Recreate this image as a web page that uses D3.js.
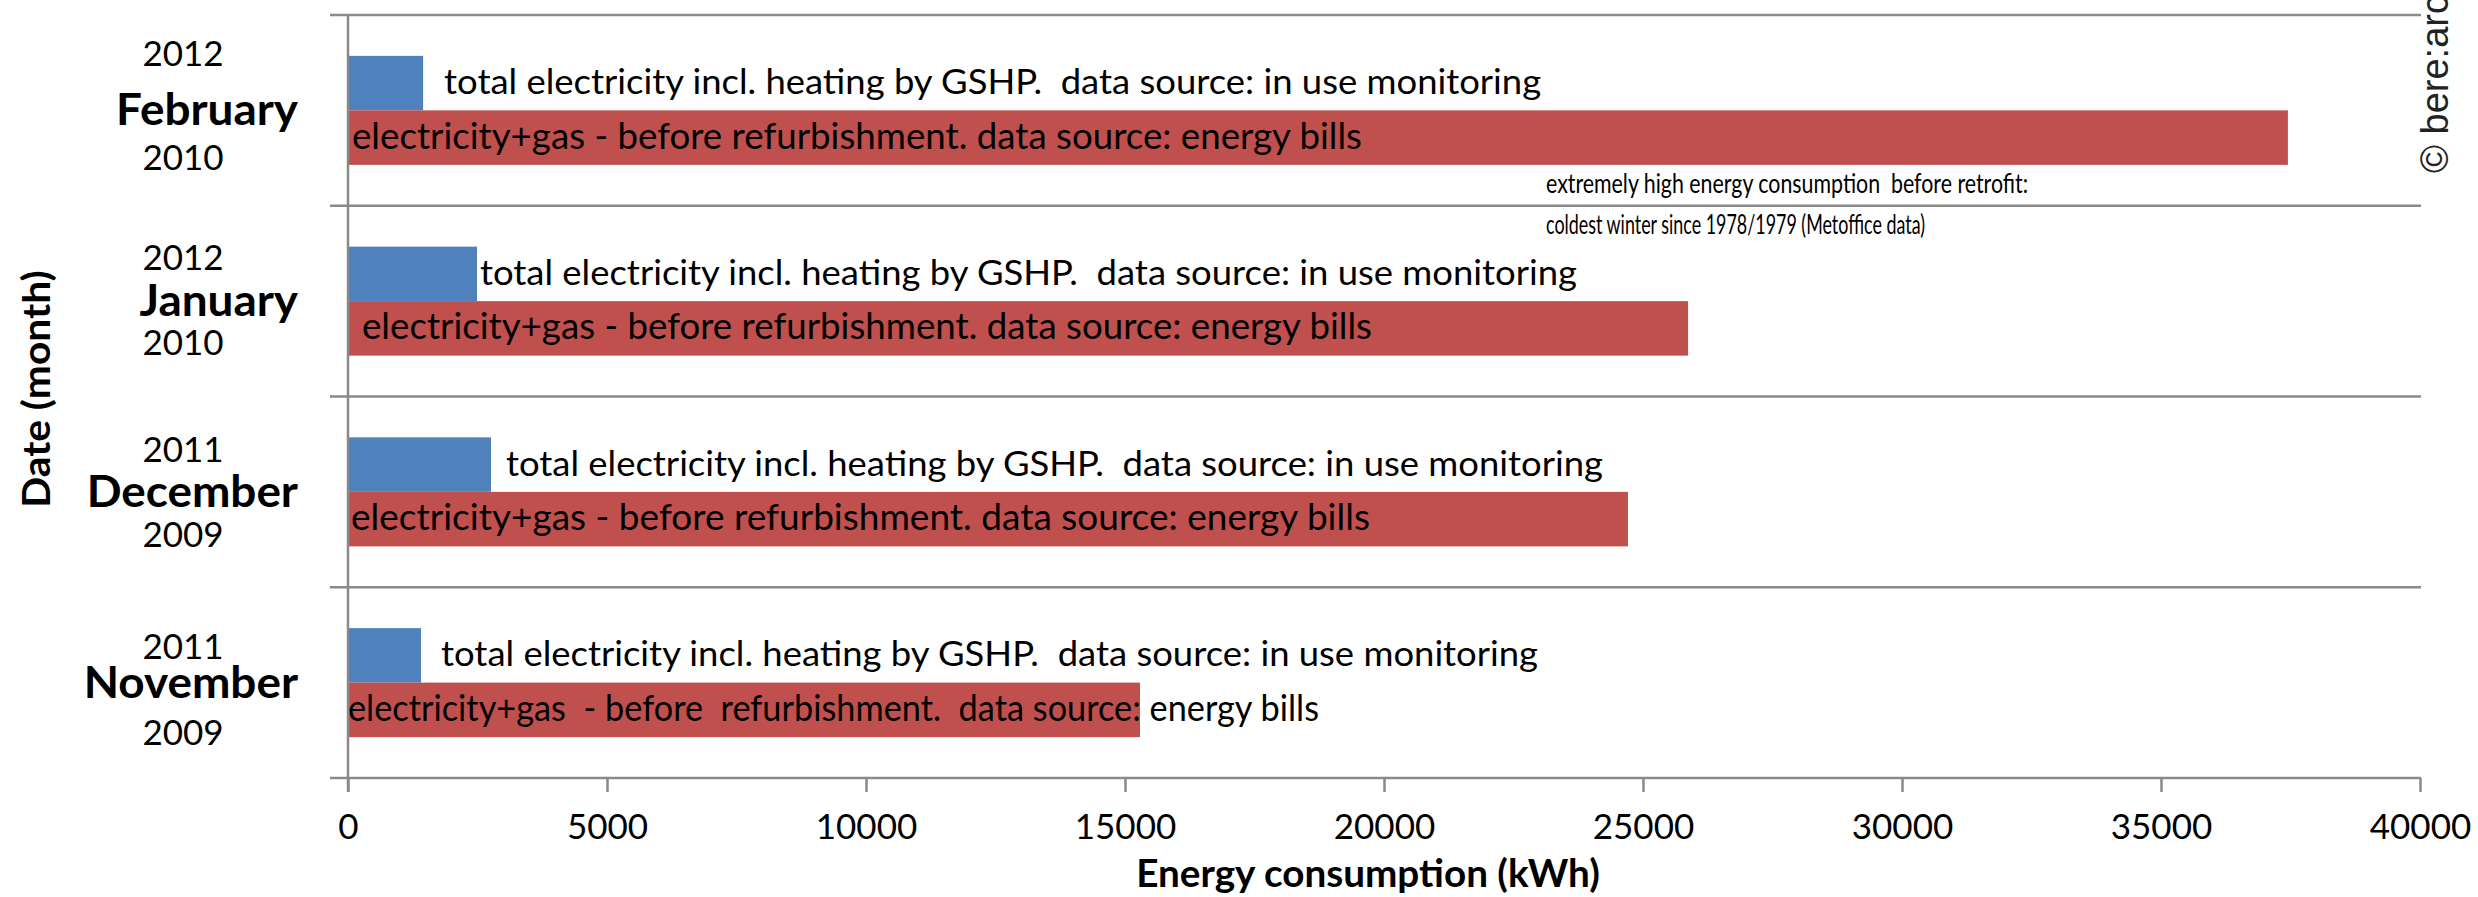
<!DOCTYPE html>
<html>
<head>
<meta charset="utf-8">
<script src="https://cdn.jsdelivr.net/npm/d3@7"></script>
<style>
  body { margin: 0; background: #fff; }
  svg { display: block; }
  text { white-space: pre; }
</style>
</head>
<body>
<div id="chart"></div>
<script>
var width = 2478,
	height = 897;

// categories, top to bottom
var months = ["February", "January", "December", "November"];
var yearsAfter = ["2012", "2012", "2011", "2011"];
var yearsBefore = ["2010", "2010", "2009", "2009"];

// kWh per month
var afterRetrofit = [1450, 2490, 2760, 1410];      // total electricity incl. GSHP (monitoring)
var beforeRetrofit = [37450, 25870, 24710, 15290]; // electricity+gas (energy bills)

var xTicks = [0, 5000, 10000, 15000, 20000, 25000, 30000, 35000, 40000];

var afterText = [
	"total electricity incl. heating by GSHP.  data source: in use monitoring",
	"total electricity incl. heating by GSHP.  data source: in use monitoring",
	"total electricity incl. heating by GSHP.  data source: in use monitoring",
	"total electricity incl. heating by GSHP.  data source: in use monitoring"
];
var beforeText = [
	"electricity+gas - before refurbishment. data source: energy bills",
	"electricity+gas - before refurbishment. data source: energy bills",
	"electricity+gas - before refurbishment. data source: energy bills",
	"electricity+gas  - before  refurbishment.  data source: energy bills"
];
var noteLines = [
	"extremely high energy consumption  before retrofit:",
	"coldest winter since 1978/1979 (Metoffice data)"
];

// hand placed labels, like in the original sheet
var afterGap = [21, 3, 15, 20];
var beforeInset = [4, 14, 3, 0];
var beforeWidth = [1010, 1010, 1019, 971];
var noteWidth = [482, 379];
var yearUp = [-57, -44, -42, -36];
var yearDown = [47, 41, 43, 50];

var blue = "#4F81BD",
	red = "#C0504D",
	gridColor = "#8a8a8a",
	font = "Lato, 'Open Sans', sans-serif";

var svg = d3.select("#chart").append("svg")
	.attr("width", width)
	.attr("height", height);

svg.append("rect")
	.attr("width", width)
	.attr("height", height)
	.attr("fill", "#fff");

var x = d3.scaleLinear()
	.domain([0, 40000])
	.range([348, 2420]);

var y = d3.scaleBand()
	.domain(months)
	.range([15, 778]);

var inner = d3.scaleBand()
	.domain(["after", "before"])
	.range([0, y.bandwidth()])
	.paddingOuter(0.75);

var rows = months.map(function(m, i) {
	return {
		month: m,
		after: afterRetrofit[i],
		before: beforeRetrofit[i],
		afterText: afterText[i],
		beforeText: beforeText[i],
		yearA: yearsAfter[i],
		yearB: yearsBefore[i],
		gap: afterGap[i],
		inset: beforeInset[i],
		bw: beforeWidth[i],
		up: yearUp[i],
		down: yearDown[i]
	};
});

// squeeze Lato down to the narrow Calibri look of the original
function squeeze(sel, k) {
	sel.each(function() {
		var w = this.getComputedTextLength();
		d3.select(this)
			.attr("textLength", w * k)
			.attr("lengthAdjust", "spacingAndGlyphs");
	});
}

// gridlines / category separators
var bounds = months.map(function(m) { return y(m); }).concat([y.range()[1]]);
svg.append("g")
	.attr("class", "grid")
	.selectAll("line")
	.data(bounds)
	.enter()
	.append("line")
	.attr("x1", 330)
	.attr("x2", x(40000) + 1)
	.attr("y1", function(d) { return d; })
	.attr("y2", function(d) { return d; })
	.attr("stroke", gridColor)
	.attr("stroke-width", 2.5);

// bars
var band = svg.append("g")
	.attr("class", "bars")
	.selectAll("g")
	.data(rows)
	.enter()
	.append("g")
	.attr("transform", function(d) { return "translate(0," + y(d.month) + ")"; });

band.append("rect")
	.attr("x", x(0))
	.attr("y", inner("after"))
	.attr("width", function(d) { return x(d.after) - x(0); })
	.attr("height", inner.bandwidth())
	.attr("fill", blue);

band.append("rect")
	.attr("x", x(0))
	.attr("y", inner("before"))
	.attr("width", function(d) { return x(d.before) - x(0); })
	.attr("height", inner.bandwidth())
	.attr("fill", red);

// value axis
var xAxis = d3.axisBottom(x)
	.tickValues(xTicks)
	.tickSize(14)
	.tickSizeOuter(0)
	.tickPadding(22)
	.tickFormat(d3.format("d"));

var axisG = svg.append("g")
	.attr("transform", "translate(0," + y.range()[1] + ")")
	.call(xAxis);
axisG.select(".domain").remove();
axisG.attr("font-family", font).attr("font-size", 35);
axisG.selectAll(".tick line").attr("stroke", gridColor).attr("stroke-width", 2.5);
axisG.selectAll(".tick text").attr("fill", "#000");

// category axis line
svg.append("line")
	.attr("x1", x(0))
	.attr("x2", x(0))
	.attr("y1", y.range()[0] - 1)
	.attr("y2", y.range()[1] + 14)
	.attr("stroke", gridColor)
	.attr("stroke-width", 2.5);

// bar labels
var afterLab = band.append("text")
	.attr("x", function(d) { return x(d.after) + d.gap; })
	.attr("y", inner("after") + inner.bandwidth() / 2 + 11)
	.attr("font-family", font)
	.attr("font-size", 35.5)
	.text(function(d) { return d.afterText; });

var beforeLab = band.append("text")
	.attr("x", function(d) { return x(0) + d.inset; })
	.attr("y", inner("before") + inner.bandwidth() / 2 + 11)
	.attr("font-family", font)
	.attr("font-size", 37)
	.attr("textLength", function(d) { return d.bw; })
	.attr("lengthAdjust", "spacingAndGlyphs")
	.text(function(d) { return d.beforeText; });

var kReg = 1097 / afterLab.node().getComputedTextLength();
squeeze(afterLab, kReg);

// category labels: year after / month / year before
var cat = svg.append("g")
	.attr("class", "cats")
	.selectAll("g")
	.data(rows)
	.enter()
	.append("g")
	.attr("transform", function(d) { return "translate(0," + (y(d.month) + y.bandwidth() / 2) + ")"; })
	.attr("font-family", font);

var monthLab = cat.append("text")
	.attr("x", 298)
	.attr("y", 15)
	.attr("text-anchor", "end")
	.attr("font-size", 44.5)
	.attr("font-weight", "bold")
	.text(function(d) { return d.month; });

cat.append("text")
	.attr("x", 183)
	.attr("y", function(d) { return d.up + 12.5; })
	.attr("text-anchor", "middle")
	.attr("font-size", 35)
	.text(function(d) { return d.yearA; });

cat.append("text")
	.attr("x", 183)
	.attr("y", function(d) { return d.down + 12.5; })
	.attr("text-anchor", "middle")
	.attr("font-size", 35)
	.text(function(d) { return d.yearB; });

var kBold = 182 / monthLab.node().getComputedTextLength();
squeeze(monthLab, kBold);

// note under the february bar
svg.append("g")
	.attr("font-family", font)
	.attr("font-size", 27)
	.selectAll("text")
	.data(noteLines)
	.enter()
	.append("text")
	.attr("x", 1546)
	.attr("y", function(d, i) { return 193 + i * 41; })
	.attr("textLength", function(d, i) { return noteWidth[i]; })
	.attr("lengthAdjust", "spacingAndGlyphs")
	.text(function(d) { return d; });

// axis titles
var xTitle = svg.append("text")
	.attr("x", 1368)
	.attr("y", 887)
	.attr("text-anchor", "middle")
	.attr("font-family", font)
	.attr("font-size", 37.5)
	.attr("font-weight", "bold")
	.text("Energy consumption (kWh)");
squeeze(xTitle, kBold);

var yTitle = svg.append("text")
	.attr("transform", "translate(50,389) rotate(-90)")
	.attr("text-anchor", "middle")
	.attr("font-family", font)
	.attr("font-size", 38)
	.attr("font-weight", "bold")
	.text("Date (month)");
squeeze(yTitle, kBold * 1.04);

// copyright, runs off the top edge
svg.append("text")
	.attr("transform", "translate(2448,173) rotate(-90)")
	.attr("font-family", "'Liberation Sans', Arial, sans-serif")
	.attr("font-size", 38)
	.attr("fill", "#222")
	.text("\u00A9 bere:architects");
</script>
</body>
</html>
